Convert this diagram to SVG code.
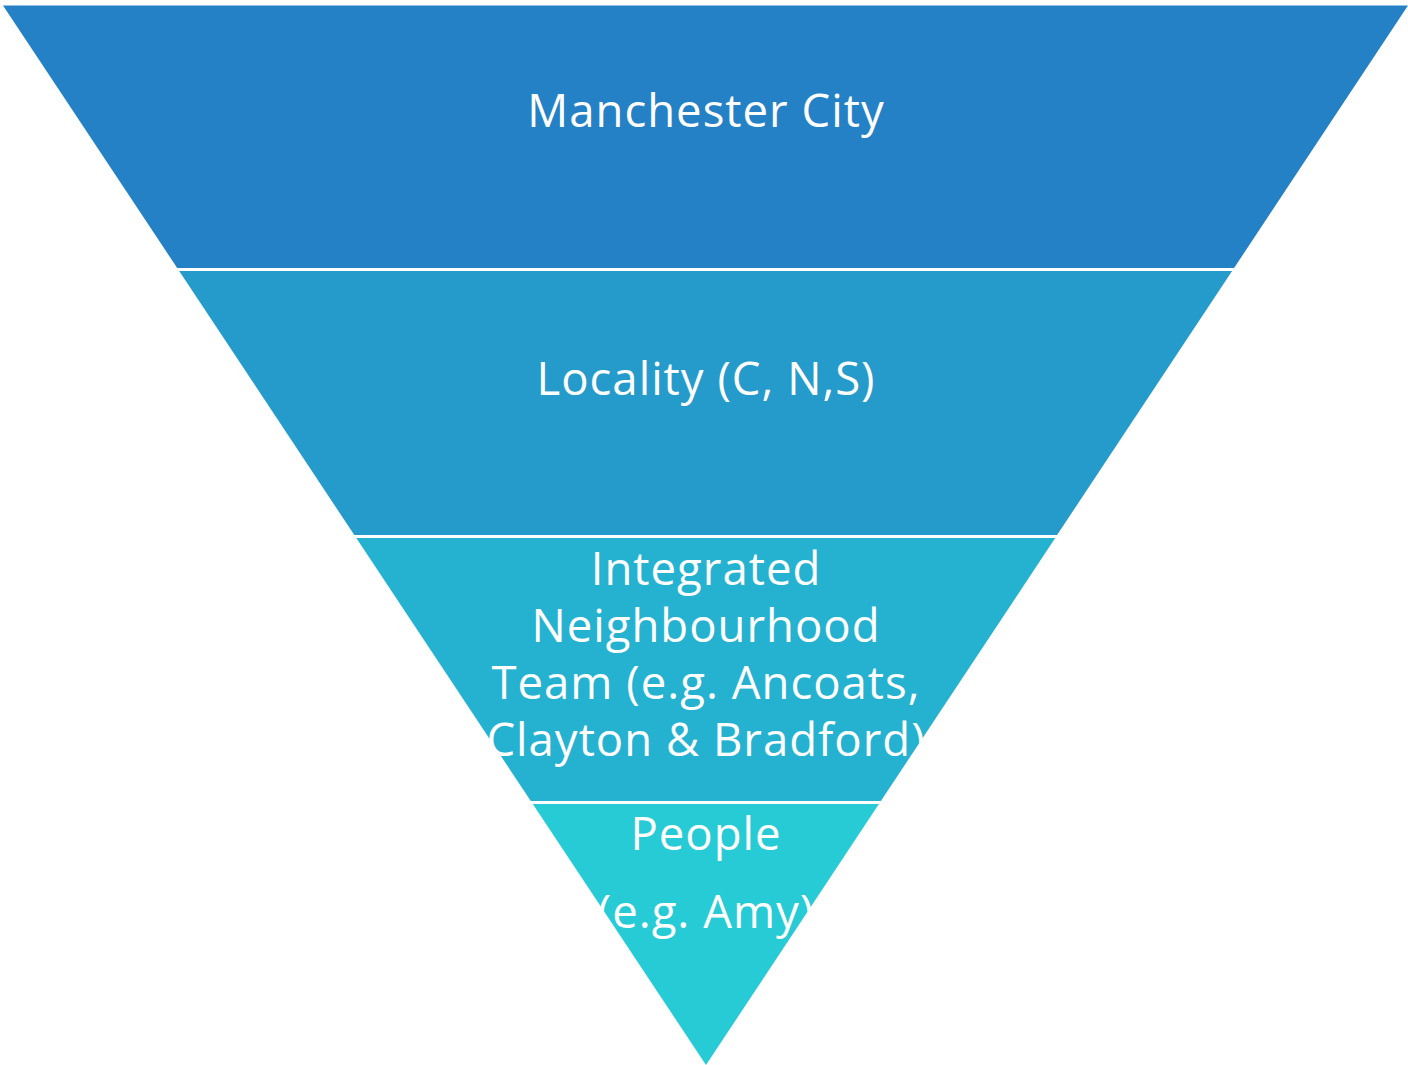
<svg xmlns="http://www.w3.org/2000/svg" width="1408" height="1065" viewBox="0 0 1408 1065">
<style>
text{font-family:"Open Sans","Noto Sans","Liberation Sans",sans-serif;font-size:45.5px;letter-spacing:1px;fill:#ffffff;text-anchor:middle}
</style>
<rect width="1408" height="1065" fill="#ffffff"/>
<g id="node-city">
<polygon points="3,5.5 1408,5.5 1234.1,268 177.2,268" fill="#2581C5"/>
<text x="706" y="127">Manchester City</text>
</g>
<g id="node-locality">
<polygon points="179.2,271 1232.1,271 1057.1,535 354.3,535" fill="#259BCB"/>
<text x="706" y="395">Locality (C, N,S)</text>
</g>
<g id="node-int">
<polygon points="356.3,538 1055.2,538 880.9,801 530.8,801" fill="#25B2D1"/>
<text x="706" y="585">Integrated</text>
<text x="706" y="642">Neighbourhood</text>
<text x="706" y="699">Team (e.g. Ancoats,</text>
<text x="706" y="756">Clayton &amp; Bradford)</text>
</g>
<g id="node-people">
<polygon points="532.8,804 878.9,804 706,1065" fill="#27CBD5"/>
<text x="706" y="850">People</text>
<text x="706" y="928">(e.g. Amy)</text>
</g>
<g id="connectors"></g>
</svg>
